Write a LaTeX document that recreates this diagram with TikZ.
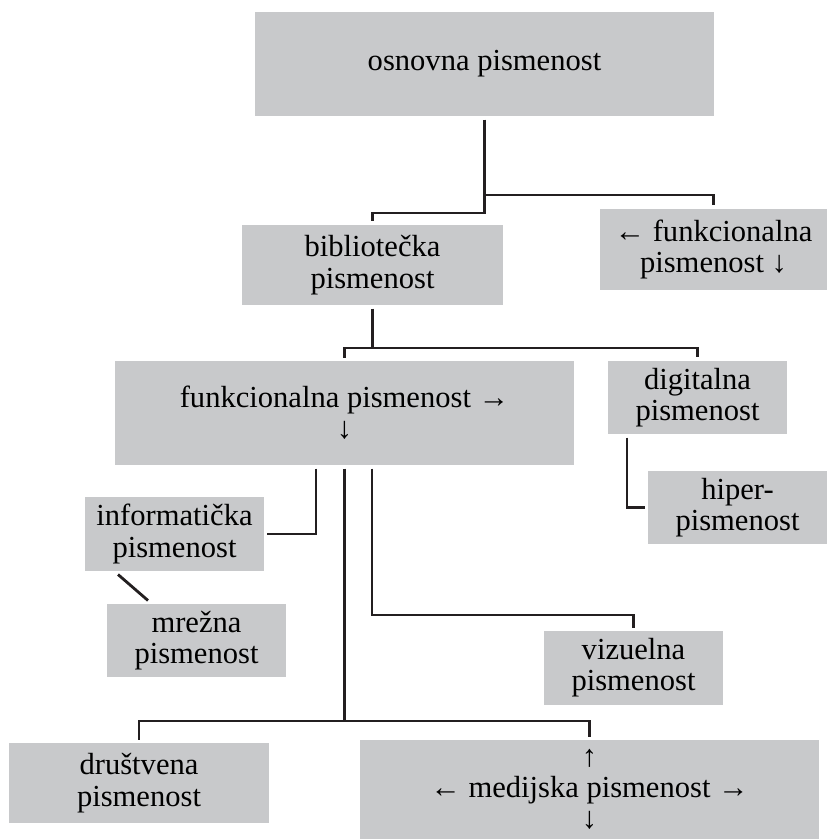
\documentclass[tikz,border=0pt]{standalone}
\usepackage{fontspec}
\setmainfont{Liberation Serif}
\usetikzlibrary{calc}
\definecolor{kutijasiva}{RGB}{200,201,203}
\definecolor{linijacrna}{RGB}{35,31,32}

\begin{document}
\begin{tikzpicture}[x=0.02cm, y=-0.02cm,
    box/.style={fill=kutijasiva, align=center, inner sep=0pt, outer sep=2pt,
                font=\fontsize{17.4}{17.8}\selectfont},
    conn/.style={draw=linijacrna, line width=1.6pt}]

    \useasboundingbox (0,0) rectangle (827,839);

    % === GORNJI NIVO ===
    \node[box, minimum width=9.18cm, minimum height=2.08cm] (osnovna) at (484.5,64) {osnovna pismenost};

    \node[box, minimum width=5.22cm, minimum height=1.6cm] (biblio) at (372.5,265) {bibliotečka\\pismenost};
    \node[box, minimum width=4.54cm, minimum height=1.62cm] (funkcR) at (713.5,249.5) {← funkcionalna\\pismenost ↓};

    % === SREDNJI NIVO ===
    \node[box, minimum width=9.18cm, minimum height=2.08cm] (funkc) at (344.5,413) {funkcionalna pismenost →\\↓};
    \node[box, minimum width=3.58cm, minimum height=1.46cm] (digit) at (697.5,397.5) {digitalna\\pismenost};
    \node[box, minimum width=3.58cm, minimum height=1.46cm] (hiper) at (737.5,507.5) {hiper-\\pismenost};

    \node[box, minimum width=3.58cm, minimum height=1.48cm] (info) at (174.5,534) {informatička\\pismenost};
    \node[box, minimum width=3.58cm, minimum height=1.46cm] (mrezna) at (196.5,640.5) {mrežna\\pismenost};
    \node[box, minimum width=3.58cm, minimum height=1.48cm] (vizuelna) at (633.5,668) {vizuelna\\pismenost};

    % === DONJI NIVO ===
    \node[box, minimum width=5.2cm, minimum height=1.6cm] (drustvena) at (139,783) {društvena\\pismenost};
    \node[box, minimum width=9.18cm, minimum height=1.98cm] (medijska) at (589.5,789.5) {↑\\← medijska pismenost →\\↓};

    % čvorišta
    \coordinate (j1) at (484.5,213);
    \coordinate (j2) at (484.5,195);
    \coordinate (j3) at (372.5,348);
    \coordinate (j5) at (372,615);
    \coordinate (j6) at (344.5,721);

    % === VEZE ===
    \draw[conn] (osnovna.south) -- (j1) -| (biblio.north);
    \draw[conn] (j2) -| (funkcR.north);

    \draw[conn] (biblio.south) -- (j3);
    \draw[conn] (funkc.north) |- (j3) -| (digit.north);

    \draw[conn] ([xshift=0.45cm]digit.south west) |- (hiper.west);

    \draw[conn] ([xshift=-0.57cm]funkc.south) |- (info.east);
    \draw[conn] ([xshift=-1.13cm]info.south) -- ([xshift=-0.97cm]mrezna.north);

    \draw[conn] ([xshift=0.55cm]funkc.south) |- (j5) -| (vizuelna.north);

    \draw[conn] (funkc.south) -- (j6);
    \draw[conn] (drustvena.north) |- (j6) -| (medijska.north);

\end{tikzpicture}
\end{document}
